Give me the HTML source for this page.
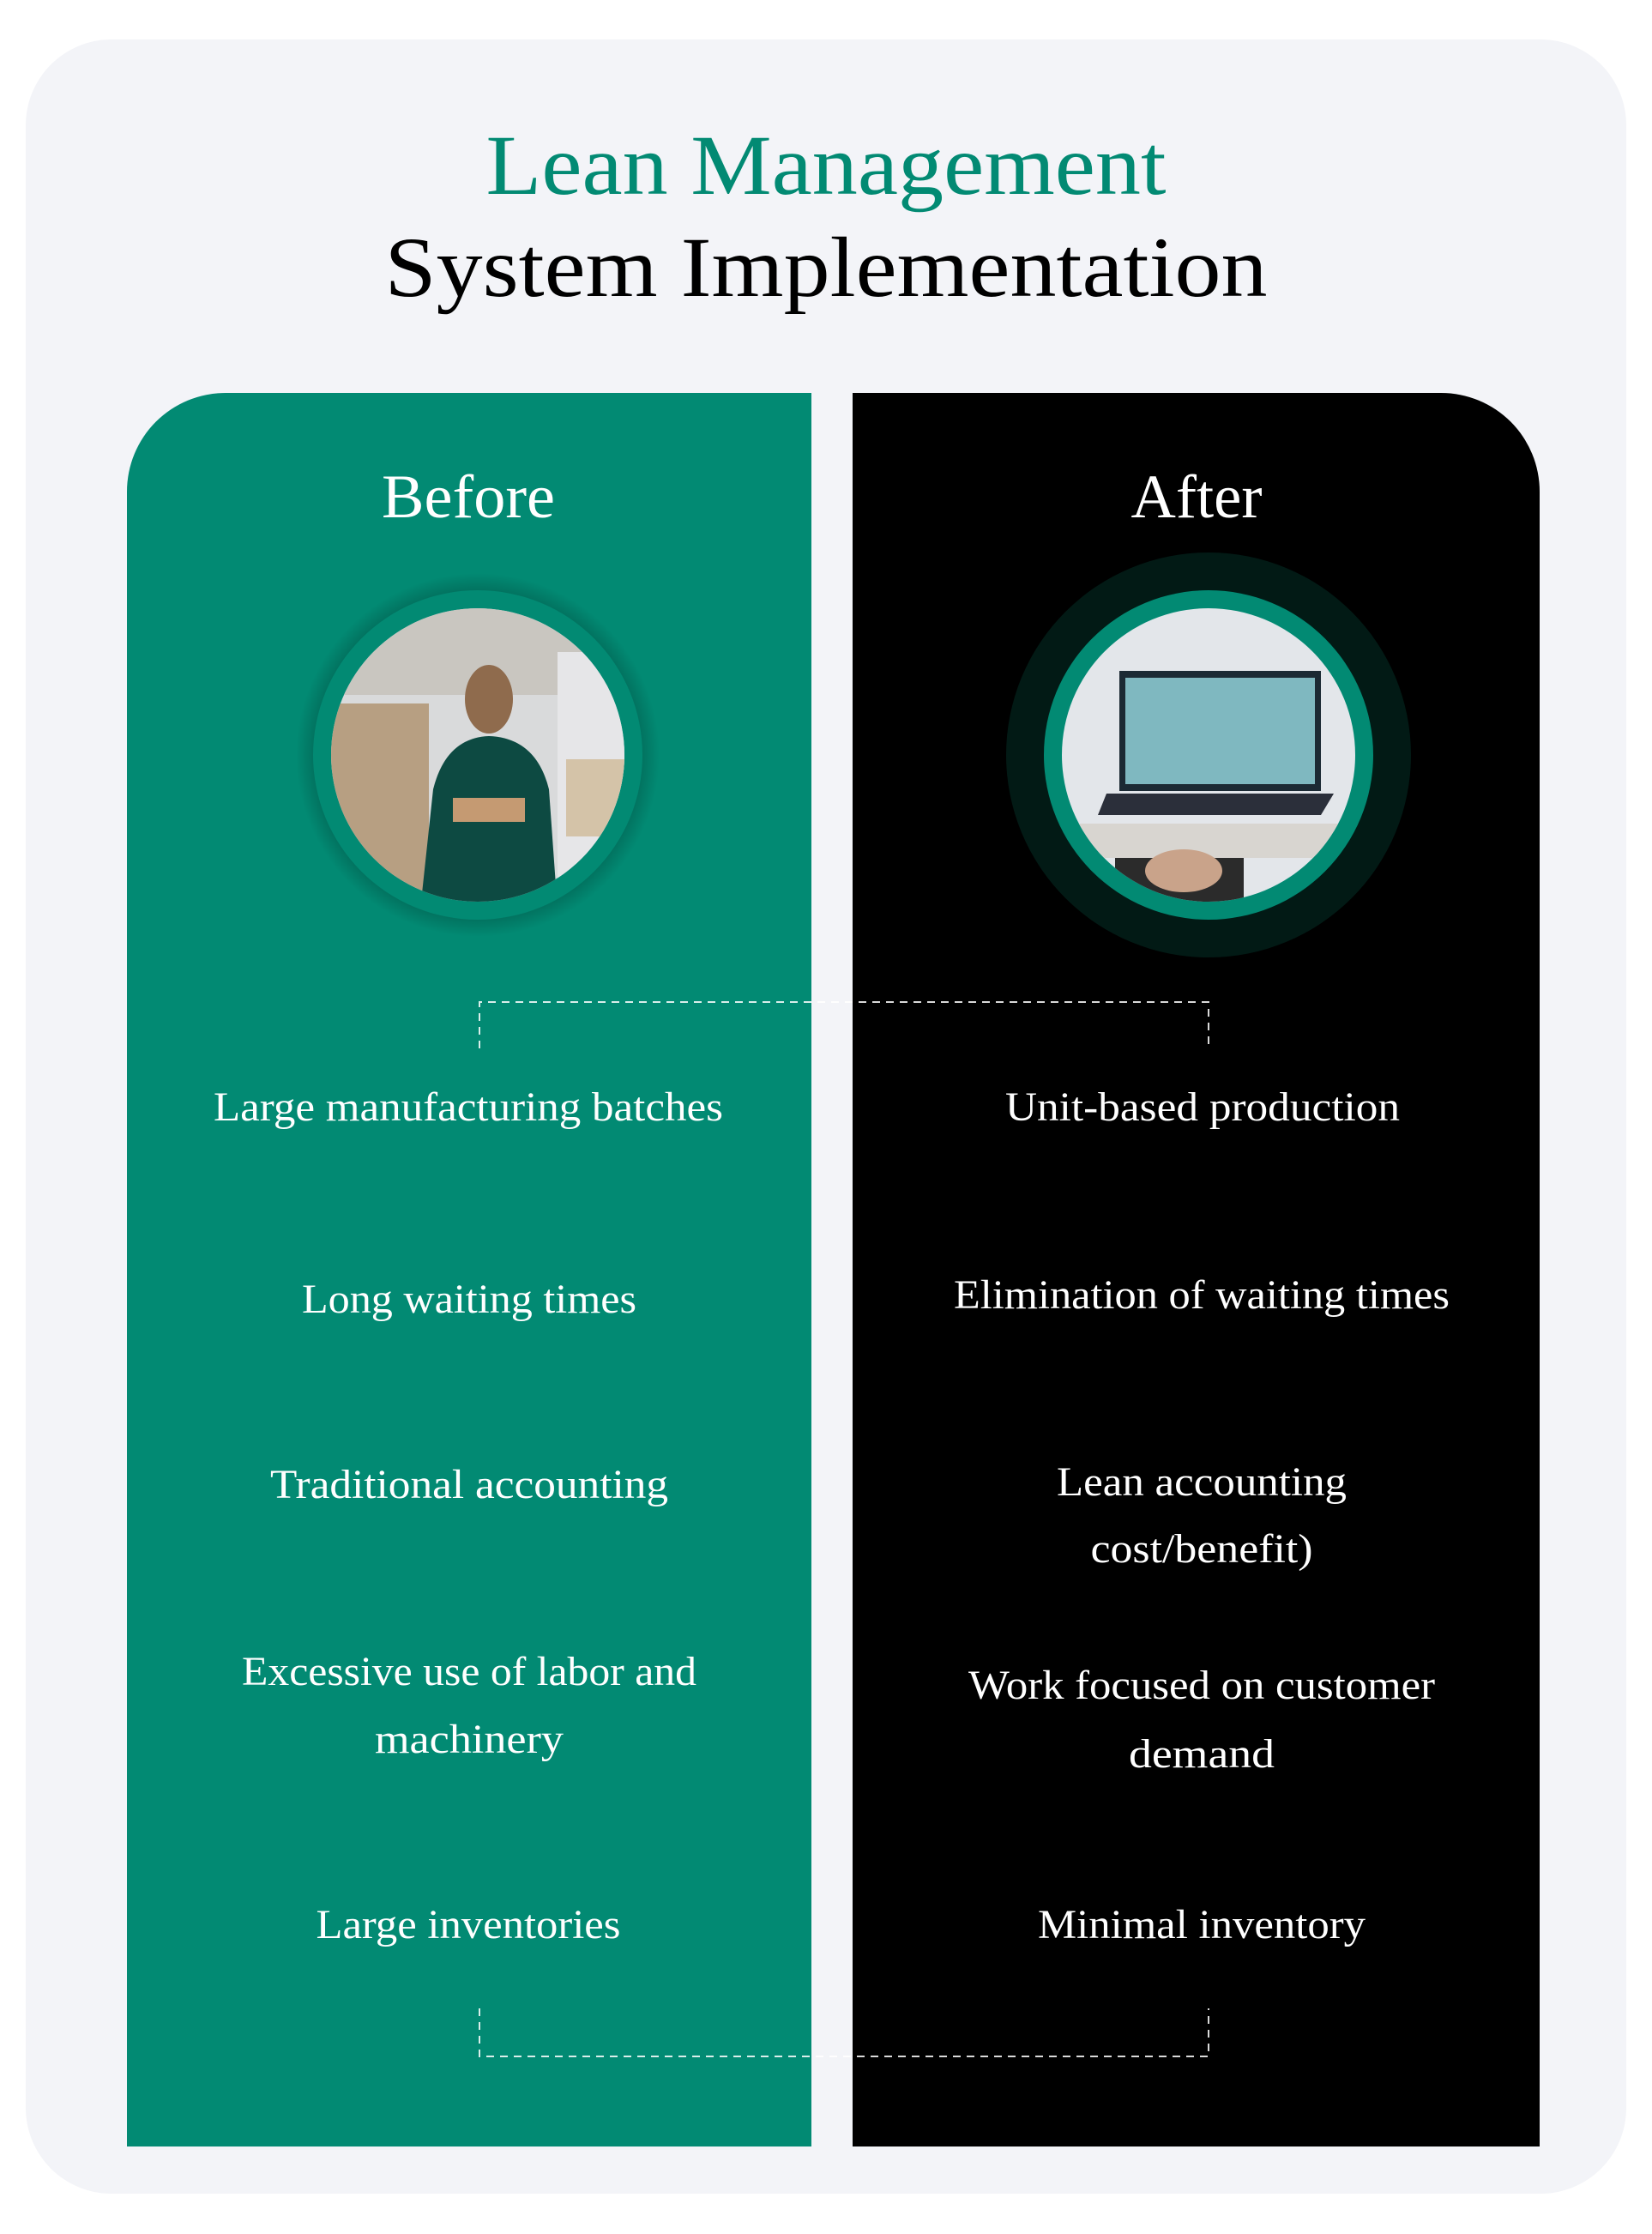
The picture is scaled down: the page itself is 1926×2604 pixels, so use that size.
<!DOCTYPE html>
<html><head><meta charset="utf-8"><style>
html,body{margin:0;padding:0;background:#fff;width:1926px;height:2604px;overflow:hidden}
svg{display:block}
text{font-family:"Liberation Serif",serif;fill:#fff}
</style></head><body>
<svg width="1926" height="2604" viewBox="0 0 1926 2604" xmlns="http://www.w3.org/2000/svg">
<defs>
<radialGradient id="sh" cx="0.5" cy="0.5" r="0.5"><stop offset="0.8" stop-color="#000" stop-opacity="0.35"/><stop offset="1" stop-color="#000" stop-opacity="0"/></radialGradient>
<clipPath id="c1"><circle cx="557" cy="880" r="171"/></clipPath>
<clipPath id="c2"><circle cx="1409" cy="880" r="171"/></clipPath>
</defs>
<rect x="30" y="46" width="1866" height="2511" rx="100" fill="#f3f4f8"/>
<text x="963" y="226" font-size="100" text-anchor="middle" textLength="793" lengthAdjust="spacingAndGlyphs" style="fill:#028a73">Lean Management</text>
<text x="963" y="345" font-size="100" text-anchor="middle" textLength="1029" lengthAdjust="spacingAndGlyphs" style="fill:#000">System Implementation</text>
<path d="M148 2502 V573 A115 115 0 0 1 263 458 H946 V2502 Z" fill="#028a73"/>
<path d="M994 2502 V458 H1680 A115 115 0 0 1 1795 573 V2502 Z" fill="#000"/>
<text x="546" y="603" font-size="72" text-anchor="middle" textLength="202" lengthAdjust="spacingAndGlyphs">Before</text>
<text x="1395" y="603" font-size="72" text-anchor="middle" textLength="153" lengthAdjust="spacingAndGlyphs">After</text>
<!-- left circle -->
<circle cx="557" cy="880" r="212" fill="url(#sh)"/>
<circle cx="557" cy="880" r="192" fill="#028a73"/>
<g clip-path="url(#c1)">
<rect x="380" y="700" width="360" height="360" fill="#d9dadb"/>
<rect x="380" y="700" width="360" height="110" fill="#c9c6c0"/>
<rect x="380" y="820" width="120" height="240" fill="#b79f82"/>
<rect x="650" y="760" width="90" height="300" fill="#e6e6e8"/>
<rect x="660" y="885" width="80" height="90" fill="#d4c3a8"/>
<ellipse cx="570" cy="815" rx="28" ry="40" fill="#8f6b4d"/>
<path d="M490 1060 L505 920 Q520 860 570 858 Q625 860 640 920 L650 1060 Z" fill="#0d4a42"/>
<rect x="528" y="930" width="84" height="28" fill="#c59a72"/>
</g>
<!-- right circle -->
<circle cx="1409" cy="880" r="236" fill="#021a15"/>
<circle cx="1409" cy="880" r="192" fill="#028a73"/>
<g clip-path="url(#c2)">
<rect x="1230" y="700" width="360" height="360" fill="#e3e6ea"/>
<rect x="1230" y="960" width="360" height="40" fill="#d8d5d0"/>
<rect x="1305" y="782" width="235" height="140" fill="#1c2a34"/>
<rect x="1312" y="790" width="221" height="124" fill="#7fb8c0"/>
<path d="M1290 925 H1555 L1540 950 H1280 Z" fill="#2b2f3a"/>
<rect x="1300" y="1000" width="150" height="80" fill="#2b2b2b"/>
<ellipse cx="1380" cy="1015" rx="45" ry="25" fill="#c9a38a"/>
</g>
<!-- dashed connectors -->
<g fill="none" stroke="#fff" stroke-width="2" stroke-dasharray="9 7" opacity="0.85">
<path d="M559 1222 V1168 H1409 V1222"/>
<path d="M559 2341 V2397 H1409 V2341"/>
</g>
<g font-size="48" text-anchor="middle">
<text x="546" y="1306" textLength="594" lengthAdjust="spacingAndGlyphs">Large manufacturing batches</text>
<text x="547" y="1530" textLength="390" lengthAdjust="spacingAndGlyphs">Long waiting times</text>
<text x="547" y="1746" textLength="464" lengthAdjust="spacingAndGlyphs">Traditional accounting</text>
<text x="547" y="1964" textLength="530" lengthAdjust="spacingAndGlyphs">Excessive use of labor and</text>
<text x="547" y="2043" textLength="220" lengthAdjust="spacingAndGlyphs">machinery</text>
<text x="546" y="2259" textLength="355" lengthAdjust="spacingAndGlyphs">Large inventories</text>
<text x="1402" y="1306" textLength="460" lengthAdjust="spacingAndGlyphs">Unit-based production</text>
<text x="1401" y="1525" textLength="578" lengthAdjust="spacingAndGlyphs">Elimination of waiting times</text>
<text x="1401" y="1743" textLength="338" lengthAdjust="spacingAndGlyphs">Lean accounting</text>
<text x="1401" y="1821" textLength="259" lengthAdjust="spacingAndGlyphs">cost/benefit)</text>
<text x="1401" y="1980" textLength="544" lengthAdjust="spacingAndGlyphs">Work focused on customer</text>
<text x="1401" y="2060" textLength="170" lengthAdjust="spacingAndGlyphs">demand</text>
<text x="1401" y="2259" textLength="382" lengthAdjust="spacingAndGlyphs">Minimal inventory</text>
</g>
</svg>
</body></html>
